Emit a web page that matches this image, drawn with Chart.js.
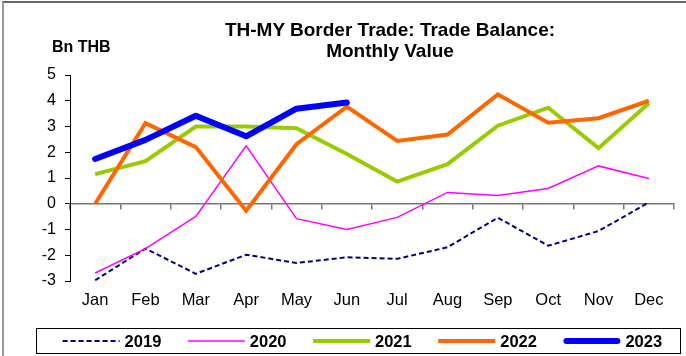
<!DOCTYPE html>
<html>
<head>
<meta charset="utf-8">
<title>TH-MY Border Trade: Trade Balance</title>
<script src="https://cdn.jsdelivr.net/npm/chart.js@4.4.0/dist/chart.umd.min.js"></script>
<style>
  html, body { margin: 0; padding: 0; background: #fff; }
  #wrap { position: relative; width: 686px; height: 356px; overflow: hidden; font-family: "Liberation Sans", Arial, sans-serif; color: #000; }
  #frame { position: absolute; left: 2px; top: 1px; right: -6px; bottom: -6px; border-top: 2px solid #666; border-left: 2px solid #999; }
  #title { position: absolute; left: 190px; width: 400px; top: 19px; text-align: center; font-weight: bold; font-size: 19px; line-height: 21px; }
  #unit { position: absolute; left: 52px; top: 39px; font-weight: bold; font-size: 16px; line-height: 16px; white-space: nowrap; }
  canvas { position: absolute; left: 0; top: 0; }
</style>
</head>
<body>
<div id="wrap">
  <div id="frame"></div>
  <canvas id="chart" width="686" height="356"></canvas>
  <div id="title">TH-MY Border Trade: Trade Balance:<br>Monthly Value</div>
  <div id="unit">Bn THB</div>
</div>
<script>
// monthly trade balance, Bn THB
const months = ['Jan', 'Feb', 'Mar', 'Apr', 'May', 'Jun', 'Jul', 'Aug', 'Sep', 'Oct', 'Nov', 'Dec'];
const years = ['2019', '2020', '2021', '2022', '2023'];

const bal2019 = [-2.97, -1.74, -2.72, -1.98, -2.30, -2.08, -2.14, -1.69, -0.54, -1.63, -1.06, 0.05];
const bal2020 = [-2.69, -1.74, -0.49, 2.25, -0.58, -1.00, -0.53, 0.44, 0.32, 0.59, 1.47, 0.98];
const bal2021 = [1.15, 1.65, 3.00, 3.00, 2.93, 1.93, 0.86, 1.54, 3.03, 3.73, 2.16, 3.90];
const bal2022 = [0.00, 3.13, 2.20, -0.27, 2.31, 3.77, 2.44, 2.69, 4.25, 3.15, 3.32, 4.00];
const bal2023 = [1.74, 2.48, 3.42, 2.62, 3.69, 3.93];

const yMin = -3;
const yMax = 5;

const font = '"Liberation Sans", Arial, sans-serif';
Chart.defaults.font.family = font;
Chart.defaults.color = '#000';

// legend in a framed box under the axis labels
const boxLegend = {
  id: 'boxLegend',
  afterDraw(chart) {
    const ctx = chart.ctx;
    const y = 341;
    ctx.save();
    ctx.strokeStyle = '#000';
    ctx.lineWidth = 1;
    ctx.strokeRect(36.5, 328.5, 644, 25);
    ctx.font = 'bold 16.5px ' + font;
    ctx.textBaseline = 'middle';
    ctx.fillStyle = '#000';
    chart.data.datasets.forEach((ds, i) => {
      const x = 62.6 + i * 125.2;
      const cap = ds.borderCapStyle || 'butt';
      const inset = cap === 'round' ? ds.borderWidth / 2 : 0;
      ctx.beginPath();
      ctx.setLineDash(ds.borderDash || []);
      ctx.strokeStyle = ds.borderColor;
      ctx.lineWidth = ds.borderWidth;
      ctx.lineCap = cap;
      ctx.moveTo(x + inset, y);
      ctx.lineTo(x + 57 - inset, y);
      ctx.stroke();
      ctx.setLineDash([]);
      ctx.fillText(ds.label, x + 62, y + 1);
    });
    ctx.restore();
  }
};

new Chart(document.getElementById('chart'), {
  type: 'line',
  data: {
    labels: months,
    datasets: [
      { label: years[0], data: bal2019, borderColor: '#000080', borderWidth: 2, borderDash: [5, 3], order: 4 },
      { label: years[1], data: bal2020, borderColor: '#ff00ff', borderWidth: 1.5, order: 3 },
      { label: years[2], data: bal2021, borderColor: '#99cc00', borderWidth: 4, order: 2 },
      { label: years[3], data: bal2022, borderColor: '#ff6600', borderWidth: 4, order: 1 },
      { label: years[4], data: bal2023, borderColor: '#0000ff', borderWidth: 6, borderCapStyle: 'round', borderJoinStyle: 'round', order: 0 }
    ]
  },
  options: {
    responsive: false,
    animation: false,
    layout: { padding: { left: 0, right: 12, top: 75, bottom: 46 } },
    plugins: {
      legend: { display: false },
      title: { display: false },
      tooltip: { enabled: false }
    },
    elements: {
      point: { radius: 0 },
      line: { tension: 0, fill: false }
    },
    scales: {
      x: {
        offset: true,
        grid: { display: false, drawTicks: false },
        border: { display: false },
        ticks: { font: { size: 16.5 }, padding: 10, maxRotation: 0, autoSkip: false },
        afterFit(scale) { scale.height = 29; }
      },
      // zero line with category tick marks
      x2: {
        axis: 'x',
        type: 'category',
        position: { y: 0 },
        offset: true,
        grid: { offset: true, drawOnChartArea: false, tickLength: 5, color: '#777', lineWidth: 1.5 },
        border: { color: '#777', width: 1.5 },
        ticks: { display: false },
        afterFit(scale) { scale.height = 0; }
      },
      y: {
        min: yMin,
        max: yMax,
        ticks: { stepSize: 1, font: { size: 16 }, padding: 9 },
        grid: { drawOnChartArea: false, tickLength: 5, color: '#000' },
        border: { color: '#000' },
        afterFit(scale) { scale.width = 70; }
      }
    }
  },
  plugins: [boxLegend]
});
</script>
</body>
</html>
